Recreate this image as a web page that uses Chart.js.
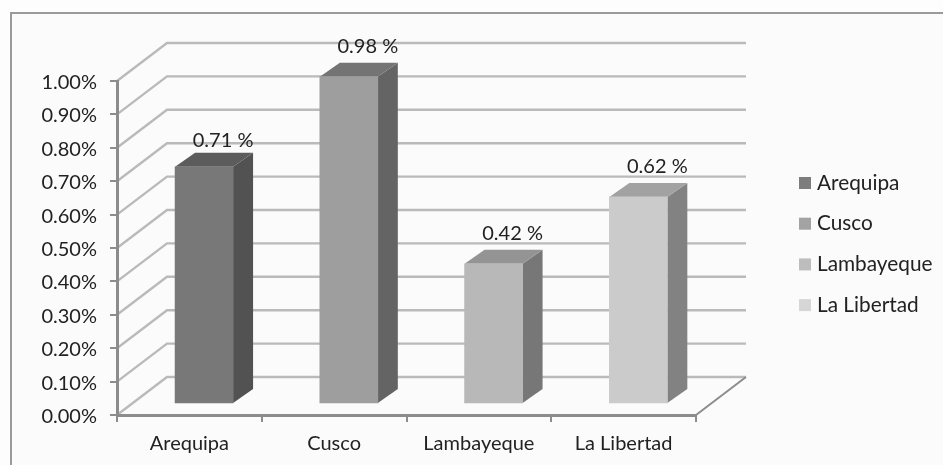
<!DOCTYPE html>
<html>
<head>
<meta charset="utf-8">
<style>
    html, body { margin: 0; padding: 0; background: #fdfdfd; overflow: hidden; }
    #frame { position: absolute; left: 10px; top: 12px; width: 940px; height: 460px; border-top: 2px solid #9a9a9a; border-left: 2px solid #9a9a9a; background: #fbfbfb; }
    #chart { position: absolute; left: 0; top: 0; }
</style>
<script src="https://cdn.jsdelivr.net/npm/chart.js@4"></script>
</head>
<body>
<div id="frame"></div>
<canvas id="chart" width="943" height="465"></canvas>
<script>
const regions = ['Arequipa', 'Cusco', 'Lambayeque', 'La Libertad'];
const percents = [0.71, 0.98, 0.42, 0.62];
const valueLabels = ['0.71 %', '0.98 %', '0.42 %', '0.62 %'];
const frontColors = ['#787878', '#9e9e9e', '#b8b8b8', '#cbcbcb'];
const sideColors = ['#525252', '#646464', '#777777', '#828282'];
const topColors = ['#5c5c5c', '#747474', '#949494', '#a2a2a2'];
const legendColors = ['#7d7d7d', '#a3a3a3', '#bdbdbd', '#d6d6d6'];

const FONT = 'Lato, sans-serif';
const INK = '#222222';
// how far the back wall sits from the front plane
const WALL_X = 50, WALL_Y = 38;
// bars stand a bit inside the floor, depth of the box
const BAR_X = 14.7, BAR_Y = 11, DEPTH_X = 20, DEPTH_Y = 14;

function line(ctx, pts, color, width) {
    ctx.beginPath();
    ctx.moveTo(pts[0][0], pts[0][1]);
    for (let i = 1; i < pts.length; i++) ctx.lineTo(pts[i][0], pts[i][1]);
    ctx.strokeStyle = color;
    ctx.lineWidth = width;
    ctx.stroke();
}

function poly(ctx, pts, color) {
    ctx.beginPath();
    ctx.moveTo(pts[0][0], pts[0][1]);
    for (let i = 1; i < pts.length; i++) ctx.lineTo(pts[i][0], pts[i][1]);
    ctx.closePath();
    ctx.fillStyle = color;
    ctx.fill();
}

const walls = {
    id: 'walls',
    beforeDraw(chart) {
        const { ctx, scales: { y }, chartArea: area } = chart;
        ctx.save();
        y.ticks.forEach(t => {
            const py = y.getPixelForValue(t.value);
            line(ctx, [[area.left, py], [area.left + WALL_X, py - WALL_Y], [area.right + WALL_X, py - WALL_Y]], '#bababa', 2.4);
        });
        // right edge of the floor
        line(ctx, [[area.right, area.bottom], [area.right + WALL_X, area.bottom - WALL_Y]], '#8c8c8c', 2);
        ctx.restore();
    }
};

const boxes = {
    id: 'boxes',
    beforeDatasetsDraw(chart) {
        const ctx = chart.ctx;
        const bars = chart.getDatasetMeta(0).data;
        ctx.save();
        ctx.translate(BAR_X, -BAR_Y);
        bars.forEach((bar, i) => {
            const l = bar.x - bar.width / 2, r = bar.x + bar.width / 2;
            poly(ctx, [[r, bar.y], [r + DEPTH_X, bar.y - DEPTH_Y], [r + DEPTH_X, bar.base - DEPTH_Y], [r, bar.base]], sideColors[i]);
            poly(ctx, [[l, bar.y], [l + DEPTH_X, bar.y - DEPTH_Y], [r + DEPTH_X, bar.y - DEPTH_Y], [r, bar.y]], topColors[i]);
        });
    },
    afterDatasetsDraw(chart) {
        const ctx = chart.ctx;
        ctx.restore();
        const bars = chart.getDatasetMeta(0).data;
        ctx.save();
        ctx.textBaseline = 'middle';
        ctx.textAlign = 'center';
        ctx.font = '20px ' + FONT;
        ctx.fillStyle = INK;
        bars.forEach((bar, i) => {
            ctx.fillText(valueLabels[i], bar.x + BAR_X + 19, bar.y - BAR_Y + (i === 0 ? -26 : -30));
        });
        // legend on the right
        ctx.textAlign = 'left';
        ctx.font = '20.8px ' + FONT;
        regions.forEach((name, i) => {
            const cy = 183 + i * 40.7;
            ctx.fillStyle = legendColors[i];
            ctx.fillRect(799, cy - 6, 12, 12);
            ctx.fillStyle = INK;
            ctx.fillText(name, 817, cy);
        });
        ctx.restore();
    }
};

new Chart(document.getElementById('chart'), {
    type: 'bar',
    data: {
        labels: regions,
        datasets: [{
            data: percents,
            backgroundColor: frontColors,
            barThickness: 58
        }]
    },
    plugins: [walls, boxes],
    options: {
        responsive: false,
        animation: false,
        layout: { padding: { top: 81, right: 247, left: 0, bottom: 0 } },
        plugins: { legend: { display: false }, tooltip: { enabled: false } },
        scales: {
            x: {
                afterFit(scale) { scale.height = 50; },
                grid: { drawOnChartArea: false, tickLength: 7, color: '#8c8c8c', lineWidth: 2 },
                border: { color: '#8c8c8c', width: 3 },
                ticks: { color: INK, font: { family: FONT, size: 20 }, padding: 10, maxRotation: 0 }
            },
            y: {
                min: 0,
                max: 1,
                afterFit(scale) { scale.width = 117; },
                grid: { drawOnChartArea: false, tickLength: 7, color: '#8c8c8c', lineWidth: 2 },
                border: { color: '#8c8c8c', width: 3 },
                ticks: {
                    stepSize: 0.1,
                    color: INK,
                    font: { family: FONT, size: 20 },
                    padding: 13,
                    labelOffset: 1.5,
                    callback: v => v.toFixed(2) + '%'
                }
            }
        }
    }
});
</script>
</body>
</html>
